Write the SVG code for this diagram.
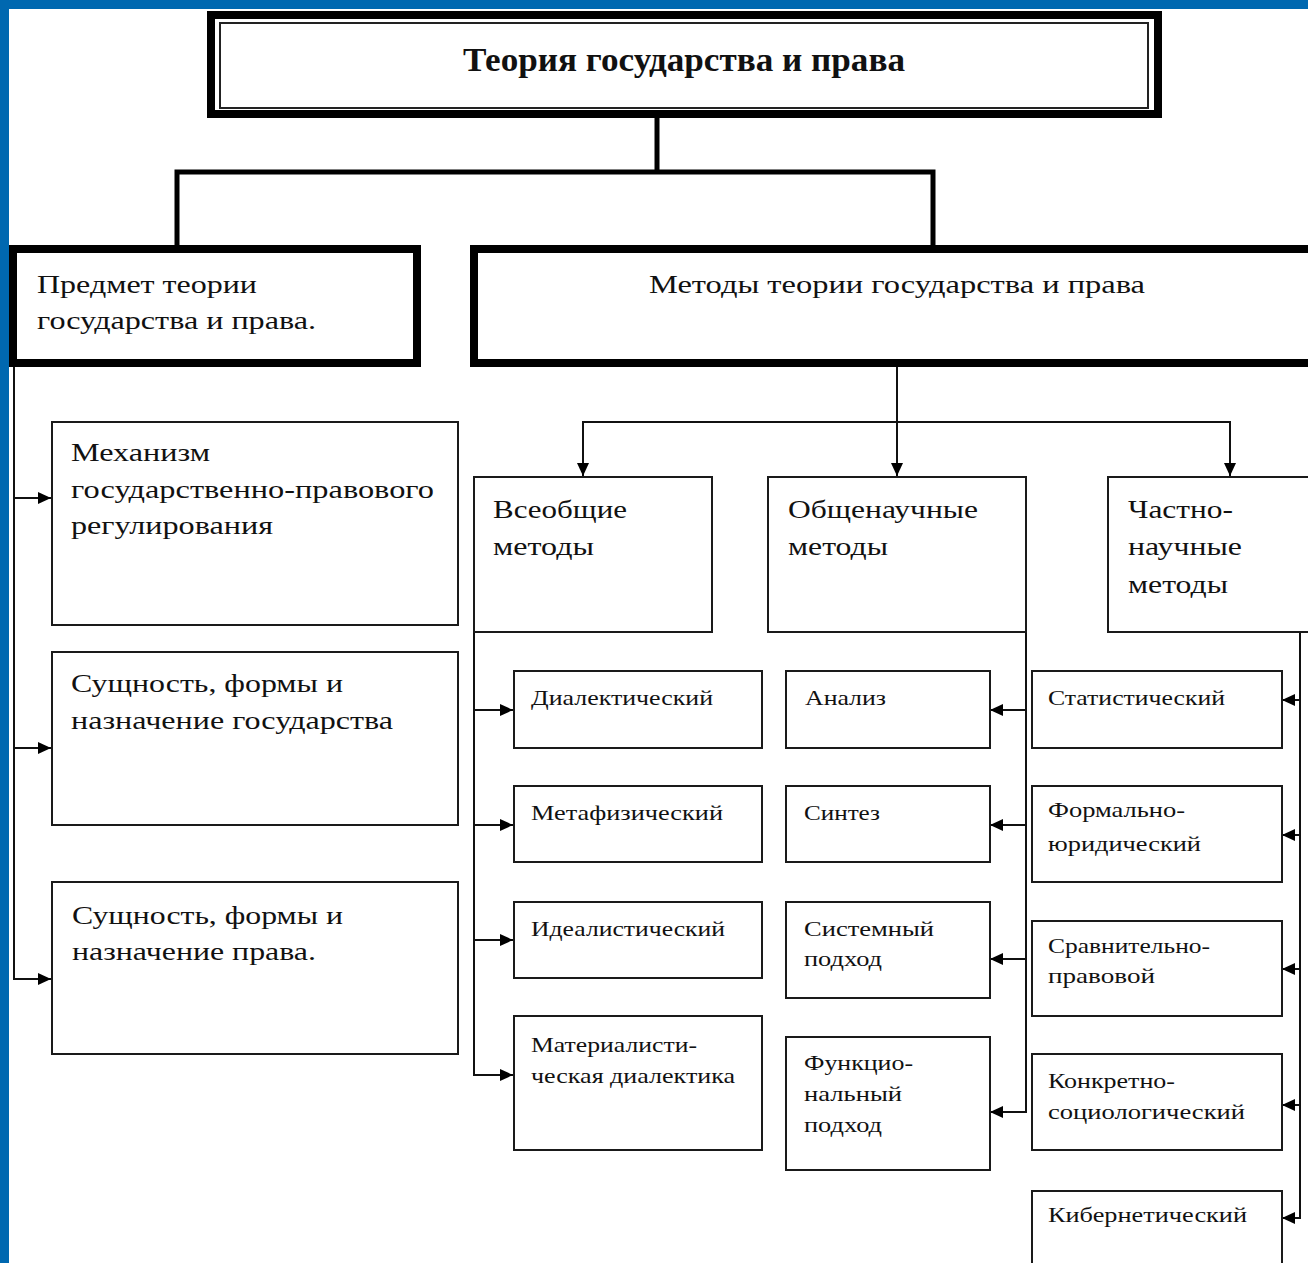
<svg xmlns="http://www.w3.org/2000/svg" width="1308" height="1263" viewBox="0 0 1308 1263">
<defs>
<style>
.bx{fill:#fff;stroke:#1a1a1a;stroke-width:2}
.bb{fill:#fff;stroke:#000;stroke-width:8}
.t{font-family:"Liberation Serif","Times New Roman",serif;fill:#111}
.tl{font-size:26px}
.tm{font-size:26px}
.ts{font-size:22px}
.ln{fill:none;stroke:#111;stroke-width:2}
.lb{fill:none;stroke:#000;stroke-width:5}
</style>
<marker id="ar" markerUnits="userSpaceOnUse" markerWidth="14" markerHeight="13" refX="13" refY="6" orient="auto">
<path d="M0,0 L13,6 L0,12 z" fill="#000"/>
</marker>
</defs>
<rect width="1308" height="1263" fill="#fff"/>
<rect x="0" y="0" width="1308" height="9" fill="#0068b0"/>
<rect x="0" y="0" width="9" height="1263" fill="#0068b0"/>

<g id="connectors">
<path class="lb" d="M657,118 V172"/>
<path class="lb" d="M177,245 V172 H933 V245"/>
<path class="ln" d="M897,367 V476" marker-end="url(#ar)"/>
<path class="ln" d="M897,422 H583 V476" marker-end="url(#ar)"/>
<path class="ln" d="M897,422 H1230 V476" marker-end="url(#ar)"/>
<path class="ln" d="M14,367 V979 H51" marker-end="url(#ar)"/>
<path class="ln" d="M14,498 H51" marker-end="url(#ar)"/>
<path class="ln" d="M14,748 H51" marker-end="url(#ar)"/>
<path class="ln" d="M474,632 V1075 H513" marker-end="url(#ar)"/>
<path class="ln" d="M474,710 H513" marker-end="url(#ar)"/>
<path class="ln" d="M474,825 H513" marker-end="url(#ar)"/>
<path class="ln" d="M474,940 H513" marker-end="url(#ar)"/>
<path class="ln" d="M1026,632 V1112 H990" marker-end="url(#ar)"/>
<path class="ln" d="M1026,710 H990" marker-end="url(#ar)"/>
<path class="ln" d="M1026,825 H990" marker-end="url(#ar)"/>
<path class="ln" d="M1026,959 H990" marker-end="url(#ar)"/>
<path class="ln" d="M1300,632 V1218 H1282" marker-end="url(#ar)"/>
<path class="ln" d="M1300,700 H1282" marker-end="url(#ar)"/>
<path class="ln" d="M1300,835 H1282" marker-end="url(#ar)"/>
<path class="ln" d="M1300,969 H1282" marker-end="url(#ar)"/>
<path class="ln" d="M1300,1105 H1282" marker-end="url(#ar)"/>
</g>

<g id="title">
<rect x="211" y="15" width="947" height="99" fill="#fff" stroke="#000" stroke-width="8"/>
<rect x="220" y="23" width="928" height="85" fill="none" stroke="#222" stroke-width="2"/>
<text class="t" x="463" y="71" font-size="33" font-weight="bold" textLength="442" lengthAdjust="spacingAndGlyphs">Теория государства и права</text>
</g>

<g id="predmet">
<rect class="bb" x="13" y="249" width="404" height="114"/>
<text class="t tl" x="37" y="293" textLength="220" lengthAdjust="spacingAndGlyphs">Предмет теории</text>
<text class="t tl" x="37" y="329" textLength="279" lengthAdjust="spacingAndGlyphs">государства и права.</text>
</g>

<g id="metody">
<rect class="bb" x="474" y="249" width="860" height="114"/>
<text class="t tl" x="649" y="293" textLength="496" lengthAdjust="spacingAndGlyphs">Методы теории государства и права</text>
</g>

<g id="mehanizm">
<rect class="bx" x="52" y="422" width="406" height="203"/>
<text class="t tm" x="71" y="461" textLength="139" lengthAdjust="spacingAndGlyphs">Механизм</text>
<text class="t tm" x="71" y="498" textLength="363" lengthAdjust="spacingAndGlyphs">государственно-правового</text>
<text class="t tm" x="71" y="534" textLength="202" lengthAdjust="spacingAndGlyphs">регулирования</text>
</g>

<g id="sushch-gos">
<rect class="bx" x="52" y="652" width="406" height="173"/>
<text class="t tm" x="71" y="692" textLength="272" lengthAdjust="spacingAndGlyphs">Сущность, формы и</text>
<text class="t tm" x="71" y="729" textLength="322" lengthAdjust="spacingAndGlyphs">назначение государства</text>
</g>

<g id="sushch-prava">
<rect class="bx" x="52" y="882" width="406" height="172"/>
<text class="t tm" x="72" y="924" textLength="271" lengthAdjust="spacingAndGlyphs">Сущность, формы и</text>
<text class="t tm" x="72" y="960" textLength="244" lengthAdjust="spacingAndGlyphs">назначение права.</text>
</g>

<g id="vseobshchie">
<rect class="bx" x="474" y="477" width="238" height="155"/>
<text class="t tm" x="493" y="518" textLength="134" lengthAdjust="spacingAndGlyphs">Всеобщие</text>
<text class="t tm" x="493" y="555" textLength="101" lengthAdjust="spacingAndGlyphs">методы</text>
</g>

<g id="obshchenauchnye">
<rect class="bx" x="768" y="477" width="258" height="155"/>
<text class="t tm" x="788" y="518" textLength="190" lengthAdjust="spacingAndGlyphs">Общенаучные</text>
<text class="t tm" x="788" y="555" textLength="100" lengthAdjust="spacingAndGlyphs">методы</text>
</g>

<g id="chastnonauchnye">
<rect class="bx" x="1108" y="477" width="230" height="155"/>
<text class="t tm" x="1128" y="518" textLength="105" lengthAdjust="spacingAndGlyphs">Частно-</text>
<text class="t tm" x="1128" y="555" textLength="114" lengthAdjust="spacingAndGlyphs">научные</text>
<text class="t tm" x="1128" y="593" textLength="100" lengthAdjust="spacingAndGlyphs">методы</text>
</g>

<g id="dialekticheskiy">
<rect class="bx" x="514" y="671" width="248" height="77"/>
<text class="t ts" x="531" y="705" textLength="182" lengthAdjust="spacingAndGlyphs">Диалектический</text>
</g>
<g id="metafizicheskiy">
<rect class="bx" x="514" y="786" width="248" height="76"/>
<text class="t ts" x="531" y="820" textLength="192" lengthAdjust="spacingAndGlyphs">Метафизический</text>
</g>
<g id="idealisticheskiy">
<rect class="bx" x="514" y="902" width="248" height="76"/>
<text class="t ts" x="531" y="936" textLength="194" lengthAdjust="spacingAndGlyphs">Идеалистический</text>
</g>
<g id="materialisticheskaya">
<rect class="bx" x="514" y="1016" width="248" height="134"/>
<text class="t ts" x="531" y="1052" textLength="166" lengthAdjust="spacingAndGlyphs">Материалисти-</text>
<text class="t ts" x="531" y="1083" textLength="204" lengthAdjust="spacingAndGlyphs">ческая диалектика</text>
</g>

<g id="analiz">
<rect class="bx" x="786" y="671" width="204" height="77"/>
<text class="t ts" x="805" y="705" textLength="81" lengthAdjust="spacingAndGlyphs">Анализ</text>
</g>
<g id="sintez">
<rect class="bx" x="786" y="786" width="204" height="76"/>
<text class="t ts" x="804" y="820" textLength="76" lengthAdjust="spacingAndGlyphs">Синтез</text>
</g>
<g id="sistemnyy">
<rect class="bx" x="786" y="902" width="204" height="96"/>
<text class="t ts" x="804" y="936" textLength="130" lengthAdjust="spacingAndGlyphs">Системный</text>
<text class="t ts" x="804" y="966" textLength="78" lengthAdjust="spacingAndGlyphs">подход</text>
</g>
<g id="funktsionalnyy">
<rect class="bx" x="786" y="1037" width="204" height="133"/>
<text class="t ts" x="804" y="1070" textLength="109" lengthAdjust="spacingAndGlyphs">Функцио-</text>
<text class="t ts" x="804" y="1101" textLength="98" lengthAdjust="spacingAndGlyphs">нальный</text>
<text class="t ts" x="804" y="1132" textLength="78" lengthAdjust="spacingAndGlyphs">подход</text>
</g>

<g id="statisticheskiy">
<rect class="bx" x="1032" y="671" width="250" height="77"/>
<text class="t ts" x="1048" y="705" textLength="177" lengthAdjust="spacingAndGlyphs">Статистический</text>
</g>
<g id="formalno">
<rect class="bx" x="1032" y="786" width="250" height="96"/>
<text class="t ts" x="1048" y="817" textLength="137" lengthAdjust="spacingAndGlyphs">Формально-</text>
<text class="t ts" x="1048" y="851" textLength="153" lengthAdjust="spacingAndGlyphs">юридический</text>
</g>
<g id="sravnitelno">
<rect class="bx" x="1032" y="921" width="250" height="95"/>
<text class="t ts" x="1048" y="953" textLength="162" lengthAdjust="spacingAndGlyphs">Сравнительно-</text>
<text class="t ts" x="1048" y="983" textLength="107" lengthAdjust="spacingAndGlyphs">правовой</text>
</g>
<g id="konkretno">
<rect class="bx" x="1032" y="1054" width="250" height="96"/>
<text class="t ts" x="1048" y="1088" textLength="127" lengthAdjust="spacingAndGlyphs">Конкретно-</text>
<text class="t ts" x="1048" y="1119" textLength="197" lengthAdjust="spacingAndGlyphs">социологический</text>
</g>
<g id="kiberneticheskiy">
<rect class="bx" x="1032" y="1191" width="250" height="100"/>
<text class="t ts" x="1048" y="1222" textLength="199" lengthAdjust="spacingAndGlyphs">Кибернетический</text>
</g>
</svg>
